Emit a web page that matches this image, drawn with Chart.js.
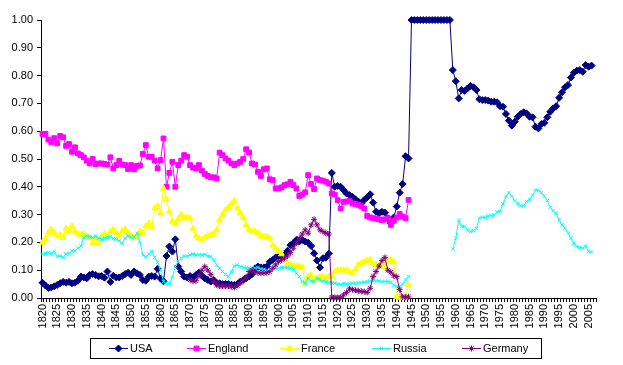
<!DOCTYPE html>
<html><head><meta charset="utf-8">
<script src="https://cdn.jsdelivr.net/npm/chart.js@4.4.1/dist/chart.umd.min.js"></script>
<style>html,body{margin:0;padding:0;background:#fff}canvas{display:block}</style>
</head><body>
<canvas id="c" width="623" height="365"></canvas>
<script>
// ---- categories ----
const firstYear = 1820, lastYear = 2007;
const years = [];
for (let y = firstYear; y <= lastYear; y++) years.push(String(y));
const tickEvery = 5;               // labelled every 5 years
const yTicks = [0,0.1,0.2,0.3,0.4,0.5,0.6,0.7,0.8,0.9,1.0];
const seriesNames = ["USA","England","France","Russia","Germany"];

// ---- series values ----
// USA 1820-2006
const usa = [
.055,.045,.036,.038,.042,.047,.053,.058,.055,.058,
.053,.055,.062,.077,.074,.071,.083,.086,.083,.078,
.079,.073,.095,.058,.080,.074,.074,.079,.086,.091,
.083,.095,.089,.083,.065,.062,.077,.079,.077,.105,
.070,.060,.151,.185,.167,.211,.113,.095,.077,.074,
.079,.074,.083,.091,.080,.071,.065,.059,.065,.053,
.053,.050,.050,.050,.048,.047,.050,.059,.065,.071,
.077,.086,.107,.113,.110,.110,.113,.130,.137,.146,
.151,.149,.155,.170,.190,.197,.209,.203,.209,.203,
.199,.187,.161,.135,.110,.143,.145,.160,.450,.400,
.403,.400,.388,.376,.370,.364,.355,.347,.340,.353,
.362,.373,.343,.310,.305,.310,.307,.287,.269,.290,
.329,.379,.410,.510,.502,
1,1,1,1,1,1,1,1,1,1,1,1,1,1,
.820,.780,.718,.748,.745,.754,.763,.758,.748,.715,
.712,.712,.710,.706,.706,.704,.690,.688,.662,.638,
.620,.634,.652,.662,.668,.664,.652,.650,.616,.610,
.626,.630,.650,.670,.682,.690,.720,.740,.758,.766,
.793,.810,.818,.820,.814,.838,.832,.836
];
// England 1820-1944
const england = [
.590,.590,.570,.560,.575,.556,.583,.578,.547,.554,
.526,.542,.520,.514,.506,.494,.484,.500,.482,.484,
.484,.482,.480,.506,.466,.478,.493,.480,.478,.464,
.478,.463,.475,.477,.518,.550,.508,.508,.494,.466,
.496,.574,.400,.450,.490,.400,.478,.494,.514,.508,
.478,.469,.466,.478,.458,.446,.439,.434,.434,.430,
.523,.514,.502,.494,.484,.478,.484,.490,.500,.535,
.523,.484,.480,.454,.439,.463,.466,.427,.424,.394,
.394,.398,.406,.409,.418,.406,.394,.367,.372,.380,
.442,.410,.392,.430,.424,.422,.418,.412,.376,.372,
.352,.322,.346,.347,.350,.340,.338,.335,.330,.322,
.295,.290,.287,.285,.283,.280,.283,.287,.263,.278,
.290,.302,.293,.287,.353
];
// France 1820-1944
const france = [
.200,.213,.236,.246,.232,.223,.226,.217,.250,.242,
.258,.240,.230,.228,.230,.220,.218,.199,.215,.197,
.222,.230,.223,.239,.247,.233,.223,.242,.247,.233,
.223,.218,.221,.239,.235,.258,.269,.257,.323,.331,
.305,.394,.355,.310,.275,.269,.283,.300,.287,.290,
.287,.250,.223,.215,.209,.218,.223,.227,.233,.245,
.280,.300,.317,.326,.338,.350,.323,.305,.290,.263,
.245,.239,.239,.233,.223,.221,.221,.215,.190,.179,
.167,.158,.139,.125,.119,.115,.114,.113,.110,.053,
.077,.083,.065,.071,.077,.077,.071,.077,.077,.095,
.100,.100,.100,.100,.095,.089,.103,.119,.125,.131,
.134,.137,.125,.119,.115,.125,.113,.131,.137,.131,
.005,.002,.002,.003,.047
];
// Russia 1820-1944
const russiaEarly = [
.158,.160,.163,.160,.167,.149,.151,.146,.158,.160,
.170,.170,.179,.187,.218,.223,.221,.218,.223,.215,
.211,.215,.217,.221,.213,.211,.205,.197,.215,.223,
.218,.220,.233,.200,.155,.148,.158,.168,.146,.128,
.100,.059,.050,.052,.075,.113,.131,.143,.151,.150,
.155,.158,.155,.156,.155,.157,.150,.149,.137,.119,
.107,.095,.085,.077,.095,.115,.119,.113,.110,.108,
.107,.107,.107,.110,.105,.103,.100,.102,.107,.106,
.107,.110,.110,.110,.106,.103,.089,.077,.059,.053,
.071,.060,.059,.071,.065,.060,.058,.056,.055,.053,
.050,.048,.052,.050,.051,.053,.053,.054,.055,.057,
.059,.062,.062,.062,.061,.059,.059,.059,.056,.047,
.041,.041,.050,.065,.077
];
// Russia 1959-2006
const russiaLate = [
.176,.215,.280,.257,.257,.245,.239,.242,.250,.287,
.290,.290,.295,.297,.299,.310,.311,.338,.365,.379,
.365,.350,.340,.331,.331,.347,.355,.370,.388,.388,
.379,.367,.350,.326,.314,.305,.280,.263,.250,.235,
.215,.197,.185,.182,.179,.187,.167,.165
];
// Germany 1870-1944
const germany = [
.065,.060,.062,.080,.100,.113,.100,.085,.060,.047,
.043,.043,.043,.043,.041,.038,.045,.055,.065,.075,
.095,.100,.095,.091,.089,.090,.091,.095,.107,.119,
.131,.137,.143,.151,.163,.179,.197,.215,.230,.245,
.233,.263,.283,.263,.245,.239,.233,.230,.003,.002,
.002,.002,.011,.020,.033,.030,.028,.026,.024,.023,
.020,.035,.077,.095,.115,.135,.146,.100,.093,.080,
.077,.030,.004,.003,.004
];

function place(parts) {
  const arr = years.map(() => null);
  parts.forEach(([vals, start]) => vals.forEach((v, i) => { arr[start - firstYear + i] = v; }));
  return arr;
}

const FONT = '"Liberation Sans", Arial, sans-serif';
function ds(label, data, color, style, radius, order) {
  return {
    label, data, order,
    borderColor: color, backgroundColor: color,
    pointBackgroundColor: color, pointBorderColor: color,
    pointStyle: style, pointRadius: radius, pointHoverRadius: radius,
    pointBorderWidth: 1, borderWidth: 1, tension: 0, spanGaps: false, clip: false
  };
}

const datasets = [
  ds(seriesNames[0], place([[usa, 1820]]), '#000080', 'rectRot', 3.5, 5),
  ds(seriesNames[1], place([[england, 1820]]), '#FF00FF', 'rect', 3.4, 4),
  ds(seriesNames[2], place([[france, 1820]]), '#FFFF00', 'triangle', 3.5, 3),
  ds(seriesNames[3], place([[russiaEarly, 1820], [russiaLate, 1959]]), '#00FFFF', 'crossRot', 2.5, 2),
  ds(seriesNames[4], place([[germany, 1870]]), '#800080', 'star', 3, 1)
];

const legendPlugin = {
  id: 'xlLegend',
  afterDraw(chart) {
    const ctx = chart.ctx;
    ctx.save();
    ctx.strokeStyle = '#000'; ctx.lineWidth = 1;
    ctx.strokeRect(90.5, 338.5, 451, 20);
    const starts = [109, 187, 280, 372, 462];
    const y = 348.5;
    chart.data.datasets.forEach((d, i) => {
      const x = starts[i];
      ctx.strokeStyle = d.borderColor; ctx.lineWidth = 1;
      ctx.beginPath(); ctx.moveTo(x, y); ctx.lineTo(x + 19, y); ctx.stroke();
      ctx.fillStyle = d.pointBackgroundColor; ctx.strokeStyle = d.pointBorderColor;
      Chart.helpers.drawPoint(ctx, {pointStyle: d.pointStyle, radius: d.pointRadius, borderWidth: 1, rotation: 0}, x + 9.5, y);
      ctx.fillStyle = '#000';
      ctx.font = '11px ' + FONT;
      ctx.textBaseline = 'middle'; ctx.textAlign = 'left';
      ctx.fillText(d.label, x + 21, y + 0.5);
    });
    ctx.restore();
  }
};

new Chart(document.getElementById('c'), {
  type: 'line',
  data: { labels: years, datasets },
  options: {
    responsive: false, animation: false, devicePixelRatio: 1,
    layout: { padding: { top: 20, right: 27, left: 0, bottom: 0 } },
    plugins: { legend: { display: false }, tooltip: { enabled: false } },
    scales: {
      x: {
        type: 'category', offset: true,
        grid: { display: true, drawOnChartArea: false, drawTicks: true, tickLength: 4, color: '#000', offset: true, lineWidth: 1 },
        border: { display: true, color: '#000', width: 1 },
        ticks: {
          autoSkip: false, maxRotation: 90, minRotation: 90, padding: 2, color: '#000',
          font: { family: FONT, size: 11 },
          callback: function (v, i) { return (+years[i]) % tickEvery === 0 ? years[i] : ''; }
        },
        afterFit(s) { s.height = 67; }
      },
      y: {
        min: 0, max: 1,
        afterBuildTicks(s) { s.ticks = yTicks.map(v => ({ value: v })); },
        grid: { drawOnChartArea: false, drawTicks: true, tickLength: 4, color: '#000' },
        border: { display: true, color: '#000', width: 1 },
        ticks: { padding: 4, color: '#000', font: { family: FONT, size: 11 }, callback: v => Number(v).toFixed(2) },
        afterFit(s) { s.width = 41; }
      }
    }
  },
  plugins: [legendPlugin]
});
</script>
</body></html>
